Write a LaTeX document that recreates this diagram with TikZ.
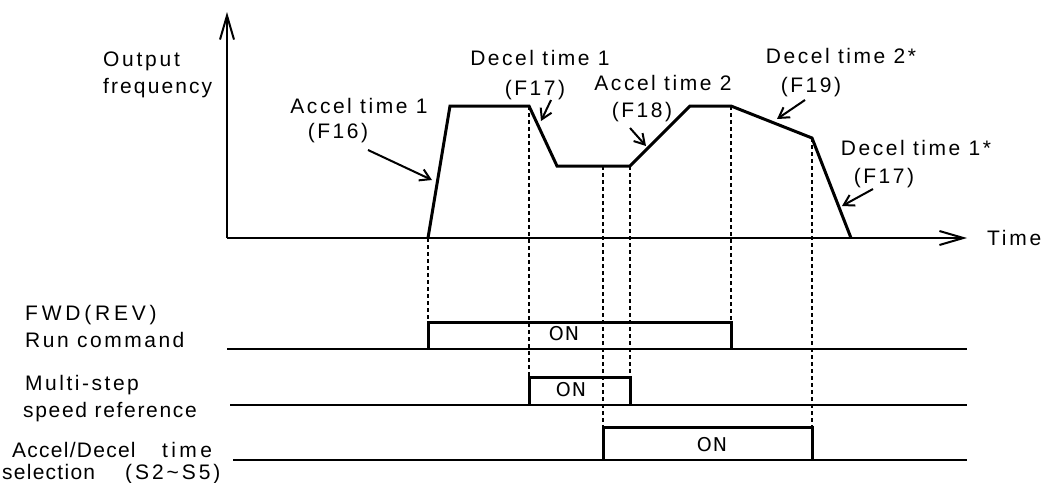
\documentclass[tikz,border=0pt]{standalone}
\usepackage{fontspec}
\setmainfont{Liberation Sans}[LetterSpace=12]
\newfontfamily\onfont{DejaVu Sans}[LetterSpace=5]
\newcommand\lsp[1]{\addfontfeature{LetterSpace=#1}}
\usetikzlibrary{arrows.meta}
\begin{document}
\begin{tikzpicture}[x=1pt,y=-1pt,
  lbl/.style={inner sep=0pt, font=\fontsize{21}{24}\selectfont},
  ontext/.style={inner sep=0pt, font=\onfont\fontsize{19}{22}\selectfont},
  axis/.style={line width=2pt, -{Straight Barb[length=24pt,width=14pt,line width=2pt]}},
  wave/.style={line width=3pt, line join=miter},
  sig/.style={line width=2pt},
  pulse/.style={line width=3pt},
  guide/.style={line width=2pt, dash pattern=on 4pt off 3pt},
  pointer/.style={line width=2pt, -{Straight Barb[length=10pt,width=12pt,line width=2pt]}}]
\useasboundingbox (0,0) rectangle (1046,482);

% axes
\coordinate (o) at (227,238);
\coordinate (ytop) at (227,12);
\coordinate (xend) at (967,238);
\draw[axis] (o) -- (ytop);
\draw[axis] (o) -- (xend);

% waveform
\coordinate (p0) at (428,238);
\coordinate (p1) at (450,106);
\coordinate (p2) at (529,106);
\coordinate (p3) at (557,166);
\coordinate (p4) at (630,166);
\coordinate (p5) at (690,106);
\coordinate (p6) at (731,106);
\coordinate (p7) at (812,138);
\coordinate (p8) at (851,238);
\coordinate (p45) at (603,166);
\draw[wave] (p0) -- (p1) -- (p2) -- (p3) -- (p4) -- (p5) -- (p6) -- (p7) -- (p8);

% timing lines
\coordinate (rs) at (227,349);  \coordinate (re) at (967,349);
\coordinate (ms) at (230,405);  \coordinate (me) at (967,405);
\coordinate (as) at (233,460);  \coordinate (ae) at (967,460);
\draw[sig] (rs) -- (re);
\draw[sig] (ms) -- (me);
\draw[sig] (as) -- (ae);

\coordinate (r0) at (428,349); \coordinate (r1) at (731,322);
\coordinate (m0) at (529,405); \coordinate (m1) at (630,377);
\coordinate (a0) at (603,460); \coordinate (a1) at (812,427);
\draw[pulse] (r0) |- (r1) -- (r1 |- r0);
\draw[pulse] (m0) |- (m1) -- (m1 |- m0);
\draw[pulse] (a0) |- (a1) -- (a1 |- a0);

% guides
\draw[guide] (p0) -- (p0 |- r1);
\draw[guide] (p2) -- (p2 |- m1);
\draw[guide] (p45) -- (p45 |- a1);
\draw[guide] (p4) -- (p4 |- m1);
\draw[guide] (p6) -- (p6 |- r1);
\draw[guide] (p7) -- (p7 |- a1);

% ON labels
\node[ontext] (on1) at (564,334) {ON};
\node[ontext] (on2) at (571,390) {ON};
\node[ontext] (on3) at (712,445) {ON};

% axis labels
\node[lbl, anchor=base west] (out1) at (103,66) {\lsp{13}Output};
\node[lbl, anchor=base west] (out2) at (103,93) {\lsp{10}frequency};
\node[lbl, anchor=base west] (time) at (987,245) {\lsp{13}Time};

% curve labels
\node[lbl, anchor=base] (a1t) at (359,113) {Accel time 1};
\node[lbl, anchor=base] (a1f) at (338,138) {(F16)};
\node[lbl, anchor=base] (d1t) at (540,65) {Decel time 1};
\node[lbl, anchor=base] (d1f) at (535,95) {(F17)};
\node[lbl, anchor=base] (a2t) at (663,90) {Accel time 2};
\node[lbl, anchor=base] (a2f) at (642,117) {(F18)};
\node[lbl, anchor=base] (d2t) at (841,63) {Decel time 2*};
\node[lbl, anchor=base] (d2f) at (811,92) {(F19)};
\node[lbl, anchor=base] (d3t) at (916,155) {Decel time 1*};
\node[lbl, anchor=base] (d3f) at (884,183) {(F17)};

% pointers
\coordinate (f16s) at (368,150); \coordinate (f16e) at (432,180);
\coordinate (f17s) at (551,100); \coordinate (f17e) at (541,121);
\coordinate (f18s) at (630,128); \coordinate (f18e) at (646,146);
\coordinate (f19s) at (805,100); \coordinate (f19e) at (777,119);
\coordinate (f17bs) at (873,189); \coordinate (f17be) at (842,206);
\draw[pointer] (f16s) -- (f16e);
\draw[pointer] (f17s) -- (f17e);
\draw[pointer] (f18s) -- (f18e);
\draw[pointer] (f19s) -- (f19e);
\draw[pointer] (f17bs) -- (f17be);

% signal names
\node[lbl, anchor=base west] (n1) at (25,320) {\lsp{18}FWD(REV)};
\node[lbl, anchor=base west] (n2) at (25,347) {Run command};
\node[lbl, anchor=base west] (n3) at (25,390) {Multi-step};
\node[lbl, anchor=base west] (n4) at (23,417) {\lsp{8}speed reference};
\node[lbl, anchor=base west] (n5a) at (12,457) {\lsp{6}Accel/Decel};
\node[lbl, anchor=base west] (n5b) at (162,457) {\lsp{16}time};
\node[lbl, anchor=base west] (n6a) at (2,479) {\lsp{6}selection};
\node[lbl, anchor=base west] (n6b) at (125,479) {\lsp{14}(S2\textasciitilde S5)};
\end{tikzpicture}
\end{document}
